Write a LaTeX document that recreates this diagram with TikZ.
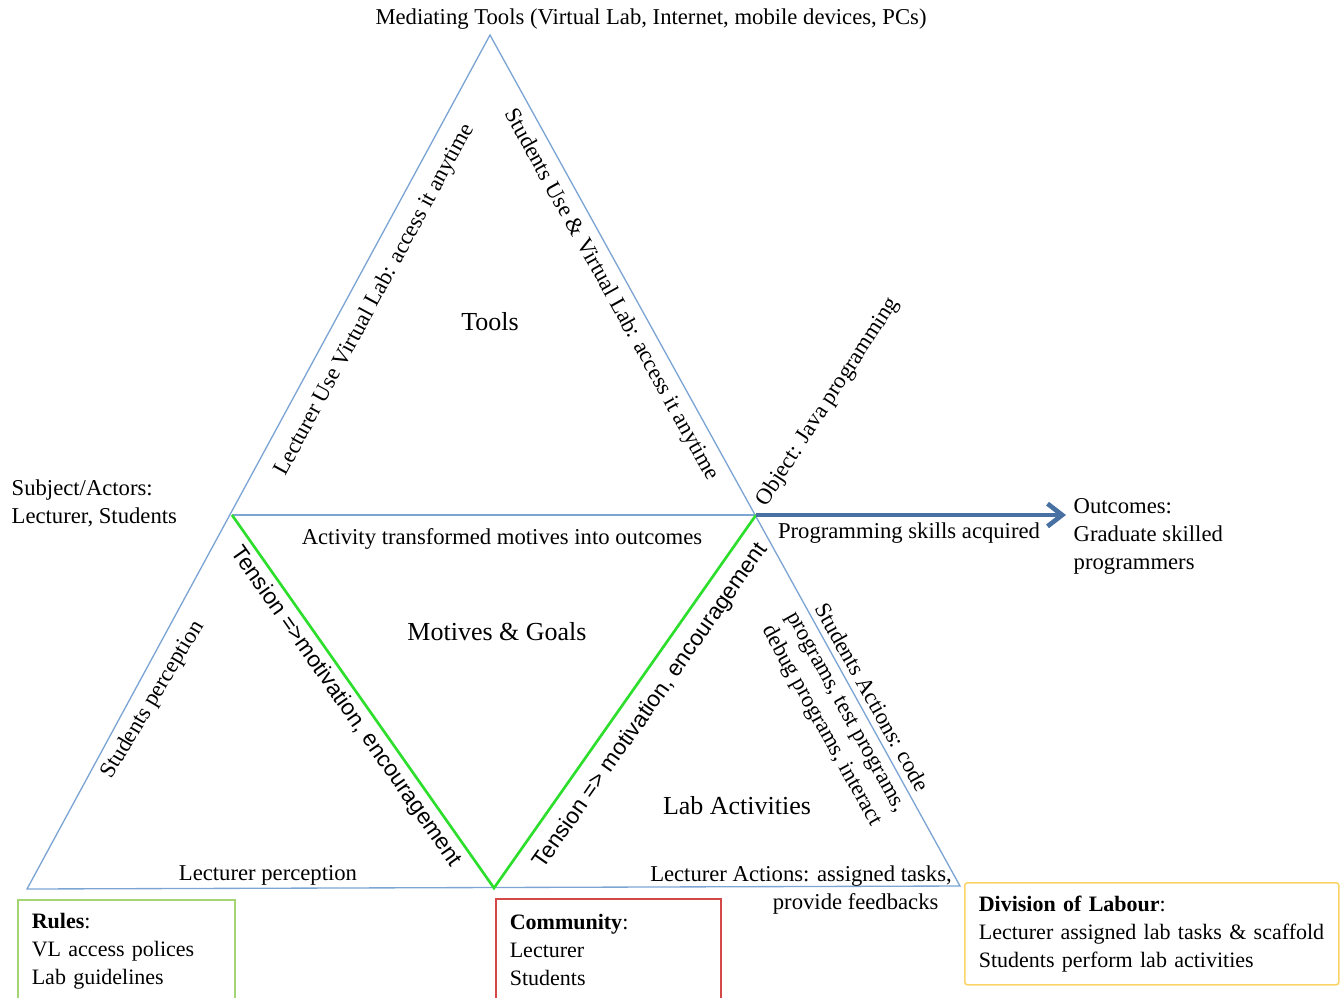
\documentclass[tikz,border=0pt]{standalone}
\usepackage{fontspec}
\setmainfont{Liberation Serif}
\newfontfamily\tensionfont{Liberation Sans}
\usetikzlibrary{arrows.meta}

\definecolor{triblue}{RGB}{125,165,212}
\definecolor{vgreen}{RGB}{45,222,45}
\definecolor{arrblue}{RGB}{72,112,162}
\definecolor{rulegreen}{RGB}{165,212,115}
\definecolor{commred}{RGB}{212,72,72}
\definecolor{divyellow}{RGB}{250,212,105}

\begin{document}
\begin{tikzpicture}[
  x=0.75pt, y=-0.75pt,
  font=\fontsize{17}{21}\selectfont,
  tri/.style={draw=triblue, line width=1pt},
  tens/.style={draw=vgreen, line width=2pt},
  big/.style={font=\fontsize{19.5}{23}\selectfont},
  sans/.style={font=\tensionfont\fontsize{17}{20}\selectfont},
  lbl/.style={inner sep=1pt},
  box/.style={draw=#1, line width=1.2pt, anchor=north west, align=left,
    minimum height=76.5pt, inner xsep=10.5pt, font=\fontsize{16.5}{21}\selectfont},
]
  \useasboundingbox (0,0) rectangle (1342,997);

  % triangle corners
  \coordinate (top) at (490,35);
  \coordinate (bl) at (27,889);
  \coordinate (br) at (960,886);
  \coordinate (ml) at (232,515);
  \coordinate (mr) at (756,515);
  \coordinate (bm) at (494,888);
  \coordinate (out) at (1066,515);

  \draw[tri] (top) -- (bl) -- (br) -- cycle;
  \draw[tri] (ml) -- (mr);
  \draw[tens] (ml) -- (bm) -- (mr);
  \draw[-{Straight Barb[length=11pt,width=17pt]}, line width=3.5pt, arrblue] (mr) -- (out);

  % labels along the edges
  \foreach \name/\x/\y/\ang/\txt in {%
      lecuse/375/300/61.6/{Lecturer Use Virtual Lab: access it anytime},
      stuuse/611/295/-61/{Students Use \& Virtual Lab: access it anytime},
      obj/828/402/57/{Object: Java programming},
      stuperc/153/700/59/{Students perception}}
    \node[lbl, rotate=\ang] (\name) at (\x,\y) {\txt};

  \node[sans, rotate=-55] (tensl) at (346,707) {Tension =>motivation, encouragement};
  \node[sans, rotate=55] (tensr) at (651,706) {Tension => motivation, encouragement};
  \node[lbl, rotate=-61, align=center] (stuact) at (846,712)
    {Students Actions: code\\programs, test programs,\\debug programs, interact};

  % plain labels
  \node (medi) at (651,19) {Mediating Tools (Virtual Lab, Internet, mobile devices, PCs)};
  \node[anchor=west, align=left] (subj) at (7,503) {Subject/Actors:\\Lecturer, Students};
  \node (activ) at (502,539) {Activity transformed motives into outcomes};
  \node (skills) at (909,533) {Programming skills acquired};
  \node[anchor=west, align=left] (outc) at (1069,536) {Outcomes:\\Graduate skilled\\programmers};
  \node (lecperc) at (268,875) {Lecturer perception};
  \node[align=right] (lecact) at (801,890) {Lecturer Actions: assigned tasks,\\provide feedbacks\hspace*{10pt}};

  \node[big] (tools) at (490,322) {Tools};
  \node[big] (motiv) at (497,632) {Motives \& Goals};
  \node[big] (labact) at (737,806) {Lab Activities};

  % boxes
  \node[box=rulegreen, text width=141.75pt] (rules) at (17,899)
    {\textbf{Rules}:\\VL access polices\\Lab guidelines};
  \node[box=commred, text width=147.75pt] (comm) at (495,898)
    {\textbf{Community}:\\Lecturer\\Students};
  \node[box=divyellow, rounded corners=2pt, text width=259.5pt] (divl) at (964,882)
    {\textbf{Division of Labour}:\\Lecturer assigned lab tasks \& scaffold\\Students perform lab activities};
\end{tikzpicture}
\end{document}
